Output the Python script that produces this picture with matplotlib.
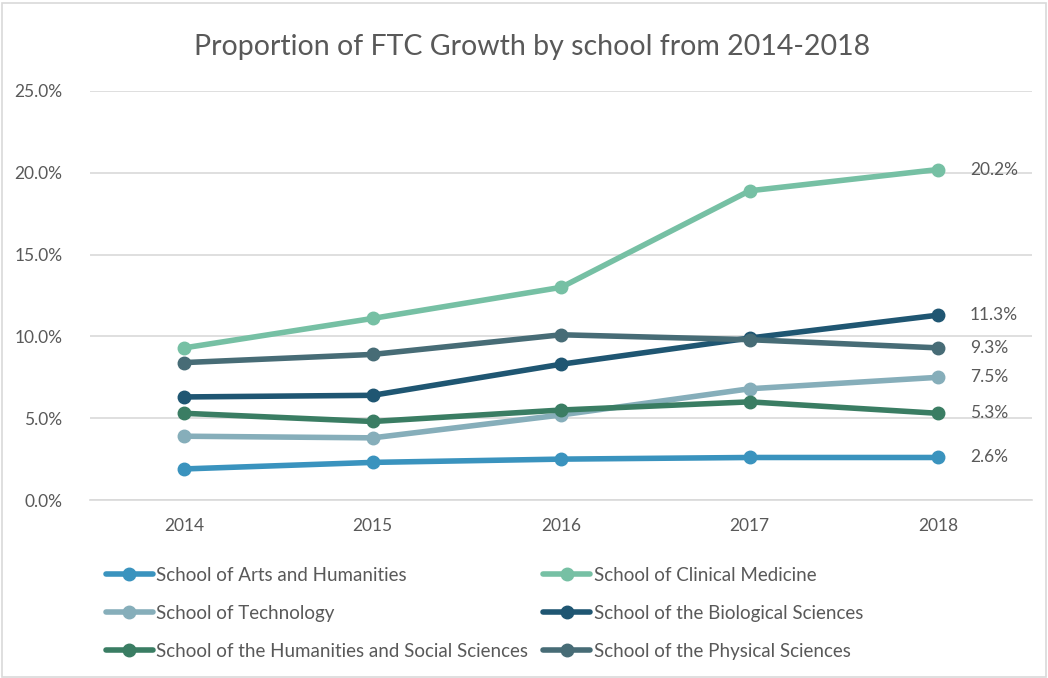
import matplotlib
matplotlib.use("Agg")
import matplotlib.pyplot as plt
from matplotlib.ticker import PercentFormatter
from matplotlib.patches import Rectangle

years = ["2014", "2015", "2016", "2017", "2018"]
arts = [1.9, 2.3, 2.5, 2.6, 2.6]
clinical = [9.3, 11.1, 13.0, 18.9, 20.2]
technology = [3.9, 3.8, 5.2, 6.8, 7.5]
biological = [6.3, 6.4, 8.3, 9.9, 11.3]
hss = [5.3, 4.8, 5.5, 6.0, 5.3]
physical = [8.4, 8.9, 10.1, 9.8, 9.3]

series = [
    ("School of Arts and Humanities", arts, "#3A93BE"),
    ("School of Clinical Medicine", clinical, "#76C0A4"),
    ("School of Technology", technology, "#86AEBA"),
    ("School of the Biological Sciences", biological, "#1F5672"),
    ("School of the Humanities and Social Sciences", hss, "#3A7D63"),
    ("School of the Physical Sciences", physical, "#476C76"),
]

plt.rcParams['font.family'] = ['Lato', 'DejaVu Sans']
text_col = "#595959"

fig = plt.figure(figsize=(10.48, 6.78), dpi=100)
fig.patches.append(Rectangle((0.002, 0.002), 0.996, 0.993, transform=fig.transFigure,
                             fill=False, edgecolor="#D9D9D9", linewidth=1.2))
ax = fig.add_axes([0.086, 0.2625, 0.899, 0.6033])

x = list(range(len(years)))
handles = []
for name, vals, col in series:
    h, = ax.plot(x, [v / 100 for v in vals], color=col, linewidth=4, marker="o",
                 markersize=9, label=name, solid_capstyle="round")
    handles.append(h)
    ax.annotate(f"{vals[-1]:.1f}%", (x[-1], vals[-1] / 100), xytext=(23, 0),
                textcoords="offset points", va="center", ha="left",
                fontsize=12.5, color=text_col)

ax.set_xlim(-0.5, len(years) - 0.5)
ax.set_ylim(0, 0.25)
ax.set_yticks([0, 0.05, 0.10, 0.15, 0.20, 0.25])
ax.yaxis.set_major_formatter(PercentFormatter(1.0, decimals=1))
ax.set_xticks(x)
ax.set_xticklabels(years)
ax.grid(axis="y", color="#D9D9D9", linewidth=1.2)
ax.set_axisbelow(True)
for s in ["top", "right", "left"]:
    ax.spines[s].set_visible(False)
ax.spines["bottom"].set_color("#D9D9D9")
ax.spines["bottom"].set_linewidth(1.2)
ax.tick_params(axis="both", length=0, labelsize=12.5, colors=text_col)
ax.tick_params(axis="x", pad=13)
ax.tick_params(axis="y", pad=20)

fig.text(0.508, 0.931, "Proportion of FTC Growth by school from 2014-2018",
         ha="center", va="center", fontsize=20.5, color=text_col)

# row-major order like the reference (matplotlib fills legend column by column)
order = [0, 2, 4, 1, 3, 5]
leg = fig.legend(handles=[handles[i] for i in order], loc="upper left",
                 bbox_to_anchor=(0.101, 0.164),
                 ncol=2, frameon=False, fontsize=13.5, labelcolor=text_col,
                 handlelength=2.5, handletextpad=0.2, columnspacing=0.8,
                 labelspacing=1.12, borderaxespad=0, borderpad=0)

fig.savefig("out.png", dpi=100)
